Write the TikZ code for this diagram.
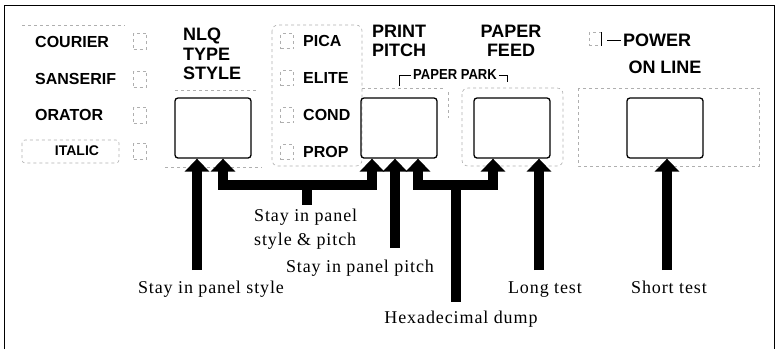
\documentclass[tikz,border=0pt]{standalone}
\usepackage{fontspec}
\setmainfont{Liberation Serif}[LetterSpace=5]
\setsansfont{Liberation Sans}
\usetikzlibrary{arrows.meta, positioning}
\definecolor{faint}{RGB}{175,175,175}
\tikzset{
	keylabel/.style={anchor=west, inner sep=0pt, font=\sffamily\bfseries\fontsize{16}{18}\selectfont},
	heading/.style={inner sep=0pt, align=left, font=\sffamily\bfseries\fontsize{18}{19.5}\selectfont},
	button/.style={draw, rounded corners=3pt, line width=1.3pt, minimum width=76pt, minimum height=60pt, inner sep=0pt},
	lamp/.style={draw=faint, dashed, line width=0.6pt, minimum width=13pt, minimum height=15pt, inner sep=0pt},
	faintline/.style={draw=faint, dashed, line width=0.6pt},
	note/.style={inner sep=0pt, anchor=base, font=\fontsize{18}{24}\selectfont},
	bigarrow/.style={line width=10pt, -{Triangle[width=24pt, length=13pt]}},
	splitarrow/.style={line width=10pt, {Triangle[width=24pt, length=13pt]}-{Triangle[width=24pt, length=13pt]}},
	stem/.style={line width=10pt},
}

\begin{document}
\begin{tikzpicture}[x=1pt, y=-1pt]
	\useasboundingbox (0,0) rectangle (777,349);
	\draw[line width=0.8pt] (4,349) -- (4,5) -- (774,5) -- (774,349);

	% faint panel outlines
	\draw[faintline] (22,25) -- (125,25);
	\draw[faintline, rounded corners=3pt] (22,140) rectangle (119,163);
	\draw[faintline] (175,90) -- (258,90);
	\draw[faintline] (165,167) -- (262,167);
	\draw[faintline, rounded corners=6pt] (272,25) rectangle (362,166);
	\draw[faintline] (362,88) -- (443,88);
	\draw[faintline] (448,92) -- (448,118);
	\draw[faintline, rounded corners=6pt] (462,88) rectangle (563,166);
	\draw[faintline] (578,88) rectangle (759,166);

	% type style keys
	\node[keylabel] (courier) at (35,41.5) {COURIER};
	\node[keylabel] (sanserif) at (35,79) {SANSERIF};
	\node[keylabel] (orator) at (35,115) {ORATOR};
	\node[keylabel, anchor=center, font=\sffamily\bfseries\fontsize{14}{16}\selectfont] (italic) at (77,151) {ITALIC};
	\node[lamp, minimum height=16pt] (ledcourier) at (140,41) {};
	\node[lamp, minimum height=16pt] (ledsanserif) at (140,79) {};
	\node[lamp, minimum height=16pt] (ledorator) at (140,115) {};
	\node[lamp, minimum height=16pt] (leditalic) at (140,151) {};
	\node[heading, anchor=north west] (nlq) at (183,28) {NLQ\\TYPE\\STYLE};

	% pitch keys
	\node[lamp] (ledpica) at (287,41) {};
	\node[lamp] (ledelite) at (287,78) {};
	\node[lamp] (ledcond) at (287,115) {};
	\node[lamp] (ledprop) at (287,152) {};
	\node[keylabel] (pica) at (303,41) {PICA};
	\node[keylabel] (elite) at (303,78) {ELITE};
	\node[keylabel] (cond) at (303,115) {COND};
	\node[keylabel] (prop) at (303,152) {PROP};
	\node[heading, anchor=north west, font=\sffamily\bfseries\fontsize{18}{19}\selectfont] (pitch) at (372,25) {PRINT\\PITCH};
	\node[heading, align=center, anchor=north, font=\sffamily\bfseries\fontsize{18}{19}\selectfont] (feed) at (511,25) {PAPER\\FEED};

	\node[inner sep=0pt, font=\sffamily\bfseries\fontsize{14.5}{16}\selectfont] (park) at (455,75) {\scalebox{0.9}[1]{PAPER PARK}};
	\draw[line width=1pt] ([xshift=-2pt]park.west) -| ++(-11,11);
	\draw[line width=1pt] ([xshift=2pt]park.east) -| ++(8,7);

	% power / on line
	\node[lamp, minimum width=12pt, minimum height=13pt] (ledpower) at (595,39) {};
	\draw[line width=0.9pt] (ledpower.north east) -- (ledpower.south east);
	\node[keylabel, font=\sffamily\bfseries\fontsize{18}{20}\selectfont] (power) at (623,40) {POWER};
	\draw[line width=1pt, shorten <=6pt, shorten >=2pt] (ledpower.east |- power.west) -- (power.west);
	\node[inner sep=0pt, font=\sffamily\bfseries\fontsize{18}{20}\selectfont] (online) at (665,67.5) {ON LINE};

	% buttons
	\node[button] (btnstyle) at (213,128) {};
	\node[button] (btnpitch) at (399,128) {};
	\node[button] (btnfeed) at (512,128) {};
	\node[button] (btnline) at (665,128) {};

	% notes
	\node[note] (nstyle) at (211,293) {Stay in panel style};
	\node[note, anchor=north west, align=left] (nboth) at (254,209) {Stay in panel\\style \& pitch};
	\node[note] (npitch) at (360,272) {Stay in panel pitch};
	\node[note] (nhex) at (461,323) {Hexadecimal dump};
	\node[note] (nlong) at (545,293) {Long test};
	\node[note] (nshort) at (669,293) {Short test};

	\coordinate (astyle) at (197,270);
	\coordinate (apitch) at (395,248);
	\coordinate (aboth) at (307,205);
	\coordinate (ahex) at (456,302);
	\coordinate (along) at (539,270);
	\coordinate (ashort) at (667,270);

	% arrows
	\draw[bigarrow] (astyle) -- ([xshift=-16pt]btnstyle.south);
	\draw[splitarrow] ([xshift=10pt]btnstyle.south) -- ++(0,26) -| ([xshift=-27pt]btnpitch.south);
	\draw[stem] (aboth |- 0,184) -- (aboth);
	\draw[bigarrow] (apitch) -- ([xshift=-4pt]btnpitch.south);
	\draw[splitarrow] ([xshift=19pt]btnpitch.south) -- ++(0,26) -| ([xshift=-19pt]btnfeed.south);
	\draw[stem] (ahex |- 0,184) -- (ahex);
	\draw[bigarrow] (along) -- ([xshift=27pt]btnfeed.south);
	\draw[bigarrow] (ashort) -- ([xshift=2pt]btnline.south);
\end{tikzpicture}
\end{document}
